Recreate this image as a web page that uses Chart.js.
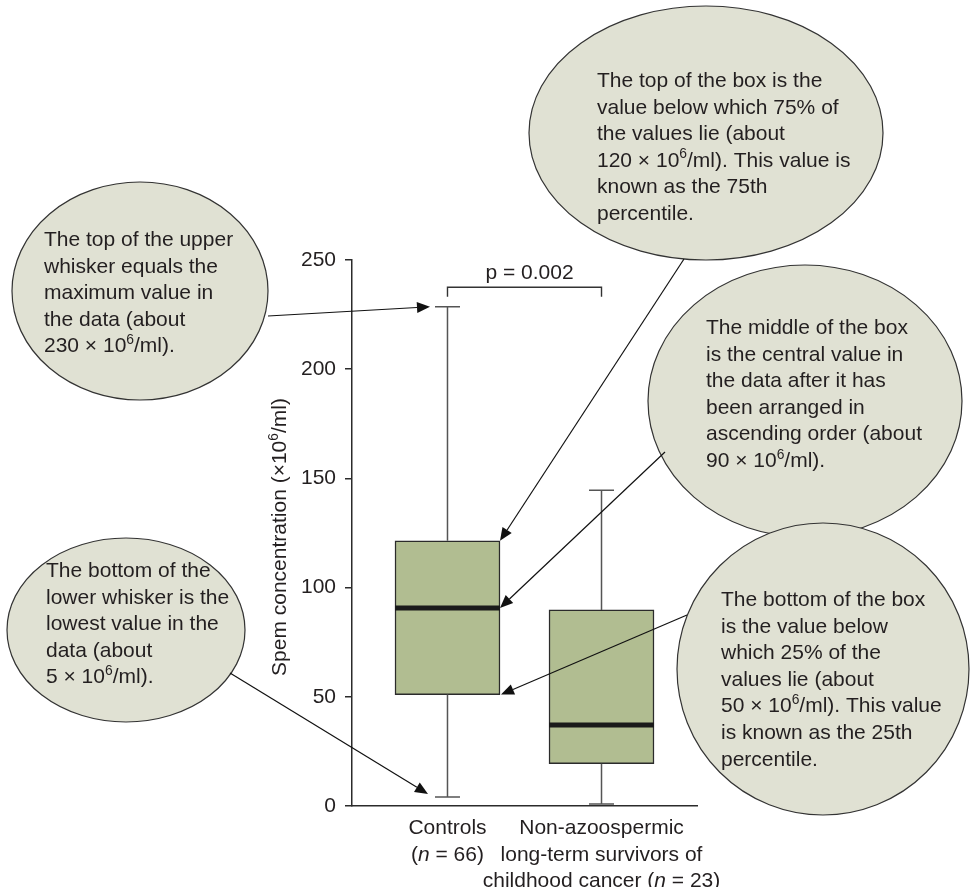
<!DOCTYPE html>
<html>
<head>
<meta charset="utf-8">
<script src="https://cdn.jsdelivr.net/npm/chart.js@4.4.0/dist/chart.umd.min.js"></script>
<style>
  html, body { margin: 0; padding: 0; background: #ffffff; }
  canvas { display: block; }
</style>
</head>
<body>
<canvas id="chart" width="971" height="887"></canvas>
<script>
// ---- data ----
const groups = ['Controls', 'Non-azoospermic long-term survivors of childhood cancer'];
const groupPositions = [1, 2];
const groupLabelLines = [
  ['Controls', '(*n* = 66)'],
  ['Non-azoospermic', 'long-term survivors of', 'childhood cancer (*n* = 23)']
];
const whiskerMin = [4.1, 0.9];
const quartile1 = [51.0, 19.4];
const medians = [90.7, 37.1];
const quartile3 = [121.4, 89.8];
const whiskerMax = [228.6, 144.6];
const yTicks = [0, 50, 100, 150, 200, 250];
const yTitle = 'Spem concentration (\u00d710^6/ml)';
const pLabel = 'p = 0.002';
const pBracketLevel = 237.5;

// explanatory callouts: text lines and the statistic of the Controls box each one points at
const calloutLines = [
  ['The top of the upper', 'whisker equals the', 'maximum value in', 'the data (about', '230 \u00d7 10^6/ml).'],
  ['The top of the box is the', 'value below which 75% of', 'the values lie (about', '120 \u00d7 10^6/ml). This value is', 'known as the 75th', 'percentile.'],
  ['The middle of the box', 'is the central value in', 'the data after it has', 'been arranged in', 'ascending order (about', '90 \u00d7 10^6/ml).'],
  ['The bottom of the', 'lower whisker is the', 'lowest value in the', 'data (about', '5 \u00d7 10^6/ml).'],
  ['The bottom of the box', 'is the value below', 'which 25% of the', 'values lie (about', '50 \u00d7 10^6/ml). This value', 'is known as the 25th', 'percentile.']
];
const calloutTargets = ['max', 'q3', 'median', 'min', 'q1'];

// ---- styling / layout ----
const FONT = '"Liberation Sans", Arial, Helvetica, sans-serif';
const FONT_SIZE = 21;
const TEXT_COLOR = '#231f20';
const LINE_H = 26.6;
const BOX_FILL = '#b1bd91';
const EDGE = '#2b2b2b';
const BUBBLE_FILL = '#e0e1d3';

// bubble geometry: centre, radii, text origin, arrow start, arrow tip placement
const bubbles = [
  { cx: 140, cy: 291, rx: 128, ry: 109, tx: 44,  ty: 246, sx: 268, sy: 316, anchor: 'capLeft',  dx: -5,  dy: 0 },
  { cx: 706, cy: 133, rx: 177, ry: 127, tx: 597, ty: 87,  sx: 684, sy: 259, anchor: 'boxRight', dx: 0,   dy: 0 },
  { cx: 805, cy: 401, rx: 157, ry: 136, tx: 706, ty: 334, sx: 665, sy: 452, anchor: 'boxRight', dx: 0,   dy: 0 },
  { cx: 126, cy: 630, rx: 119, ry: 92,  tx: 46,  ty: 577, sx: 230, sy: 673, anchor: 'capLeft',  dx: -7,  dy: -3 },
  { cx: 823, cy: 669, rx: 146, ry: 146, tx: 721, ty: 606, sx: 687, sy: 615, anchor: 'boxRight', dx: 1,   dy: 0 }
];
const CAP_HALF = 12.5;

// ---- rich text helpers (superscript ^x, italic *text*) ----
function richSegments(text) {
  return text.split(/(\^.|\*[^*]+\*)/).filter(s => s.length).map(p => {
    if (p[0] === '^' && p.length === 2) return { t: p[1], sup: true };
    if (p[0] === '*' && p.length > 2 && p.endsWith('*')) return { t: p.slice(1, -1), it: true };
    return { t: p };
  });
}
function segFont(seg, size) {
  const s = seg.sup ? size * 0.66 : size;
  return (seg.it ? 'italic ' : '') + s + 'px ' + FONT;
}
function drawRich(ctx, text, x, y, size, align) {
  const segs = richSegments(text);
  let w = 0;
  segs.forEach(s => { ctx.font = segFont(s, size); s.w = ctx.measureText(s.t).width; w += s.w; });
  let cx = align === 'center' ? x - w / 2 : (align === 'right' ? x - w : x);
  ctx.textAlign = 'left';
  ctx.textBaseline = 'alphabetic';
  segs.forEach(s => {
    ctx.font = segFont(s, size);
    ctx.fillText(s.t, cx, s.sup ? y - size * 0.4 : y);
    cx += s.w;
  });
}

function statValue(stat, i) {
  return { max: whiskerMax, q3: quartile3, median: medians, q1: quartile1, min: whiskerMin }[stat][i];
}

// whiskers, caps and medians drawn on the scales
const boxWhiskerPlugin = {
  id: 'boxWhiskers',
  afterDatasetsDraw(chart) {
    const { ctx, scales: { y } } = chart;
    const bars = chart.getDatasetMeta(0).data;
    ctx.save();
    bars.forEach((bar, i) => {
      const x = bar.x;
      const half = bar.width / 2;
      const pMax = y.getPixelForValue(whiskerMax[i]);
      const pMin = y.getPixelForValue(whiskerMin[i]);
      const pQ3 = y.getPixelForValue(quartile3[i]);
      const pQ1 = y.getPixelForValue(quartile1[i]);
      const pMed = y.getPixelForValue(medians[i]);
      ctx.strokeStyle = '#555555';
      ctx.lineWidth = 1.5;
      ctx.beginPath();
      ctx.moveTo(x, pQ3); ctx.lineTo(x, pMax);
      ctx.moveTo(x - CAP_HALF, pMax); ctx.lineTo(x + CAP_HALF, pMax);
      ctx.moveTo(x, pQ1); ctx.lineTo(x, pMin);
      ctx.moveTo(x - CAP_HALF, pMin); ctx.lineTo(x + CAP_HALF, pMin);
      ctx.stroke();
      ctx.strokeStyle = '#1a1a1a';
      ctx.lineWidth = 5;
      ctx.beginPath();
      ctx.moveTo(x - half, pMed); ctx.lineTo(x + half, pMed);
      ctx.stroke();
    });
    ctx.restore();
  }
};

function arrow(ctx, x0, y0, x1, y1) {
  const ang = Math.atan2(y1 - y0, x1 - x0);
  const len = 13, hw = 5.5;
  const bx = x1 - len * Math.cos(ang), by = y1 - len * Math.sin(ang);
  ctx.beginPath();
  ctx.moveTo(x0, y0); ctx.lineTo(bx, by);
  ctx.stroke();
  ctx.beginPath();
  ctx.moveTo(x1, y1);
  ctx.lineTo(bx + hw * Math.sin(ang), by - hw * Math.cos(ang));
  ctx.lineTo(bx - hw * Math.sin(ang), by + hw * Math.cos(ang));
  ctx.closePath();
  ctx.fill();
}

// axis title, group labels, significance bracket and the callouts
const annotationPlugin = {
  id: 'annotations',
  afterDraw(chart) {
    const { ctx, scales: { x, y }, chartArea } = chart;
    const bars = chart.getDatasetMeta(0).data;
    ctx.save();
    ctx.fillStyle = TEXT_COLOR;

    // y axis title
    ctx.save();
    ctx.translate(286, (chartArea.top + chartArea.bottom) / 2 + 4);
    ctx.rotate(-Math.PI / 2);
    drawRich(ctx, yTitle, 0, 0, FONT_SIZE, 'center');
    ctx.restore();

    // group labels below the axis
    groupPositions.forEach((pos, i) => {
      const px = x.getPixelForValue(pos);
      groupLabelLines[i].forEach((line, k) => {
        drawRich(ctx, line, px, chartArea.bottom + 28 + k * LINE_H, FONT_SIZE, 'center');
      });
    });

    // significance bracket
    const bx0 = x.getPixelForValue(groupPositions[0]);
    const bx1 = x.getPixelForValue(groupPositions[1]);
    const by = y.getPixelForValue(pBracketLevel);
    ctx.strokeStyle = '#333333';
    ctx.lineWidth = 1.4;
    ctx.beginPath();
    ctx.moveTo(bx0, by + 9.5); ctx.lineTo(bx0, by); ctx.lineTo(bx1, by); ctx.lineTo(bx1, by + 9.5);
    ctx.stroke();
    drawRich(ctx, pLabel, (bx0 + bx1) / 2 + 5, by - 8, FONT_SIZE, 'center');

    // callout bubbles
    bubbles.forEach((b, k) => {
      ctx.beginPath();
      ctx.ellipse(b.cx, b.cy, b.rx, b.ry, 0, 0, Math.PI * 2);
      ctx.fillStyle = BUBBLE_FILL;
      ctx.fill();
      ctx.strokeStyle = '#333333';
      ctx.lineWidth = 1.2;
      ctx.stroke();
      ctx.fillStyle = TEXT_COLOR;
      calloutLines[k].forEach((line, j) => drawRich(ctx, line, b.tx, b.ty + j * LINE_H, FONT_SIZE, 'left'));
    });

    // arrows from the bubbles to the Controls box statistics
    ctx.strokeStyle = '#111111';
    ctx.fillStyle = '#111111';
    ctx.lineWidth = 1.2;
    bubbles.forEach((b, k) => {
      const bar = bars[0];
      const py = y.getPixelForValue(statValue(calloutTargets[k], 0));
      const px = b.anchor === 'boxRight' ? bar.x + bar.width / 2 : bar.x - CAP_HALF;
      arrow(ctx, b.sx, b.sy, px + b.dx, py + b.dy);
    });
    ctx.restore();
  }
};

new Chart(document.getElementById('chart'), {
  type: 'bar',
  data: {
    datasets: [{
      label: 'Sperm concentration',
      data: groupPositions.map((p, i) => ({ x: p, y: [quartile1[i], quartile3[i]] })),
      backgroundColor: BOX_FILL,
      borderColor: EDGE,
      borderWidth: 1.5,
      borderSkipped: false,
      barThickness: 105
    }]
  },
  options: {
    responsive: false,
    animation: false,
    devicePixelRatio: 1,
    layout: { padding: { left: 252, right: 274, top: 260, bottom: 81 } },
    plugins: { legend: { display: false }, tooltip: { enabled: false } },
    scales: {
      x: {
        type: 'linear', min: 0.38, max: 2.62, offset: false,
        ticks: { display: false },
        grid: { display: false },
        border: { display: true, color: EDGE, width: 1.5 },
        afterFit(s) { s.height = 0; }
      },
      y: {
        min: 0, max: 250,
        afterBuildTicks(s) { s.ticks = yTicks.map(v => ({ value: v })); },
        ticks: { padding: 9, color: TEXT_COLOR, font: { family: FONT, size: FONT_SIZE } },
        grid: { drawOnChartArea: false, drawTicks: true, tickLength: 7, color: EDGE, lineWidth: 1.5 },
        border: { display: true, color: EDGE, width: 1.5 },
        afterFit(s) { s.width = 100; }
      }
    }
  },
  plugins: [boxWhiskerPlugin, annotationPlugin]
});
</script>
</body>
</html>
